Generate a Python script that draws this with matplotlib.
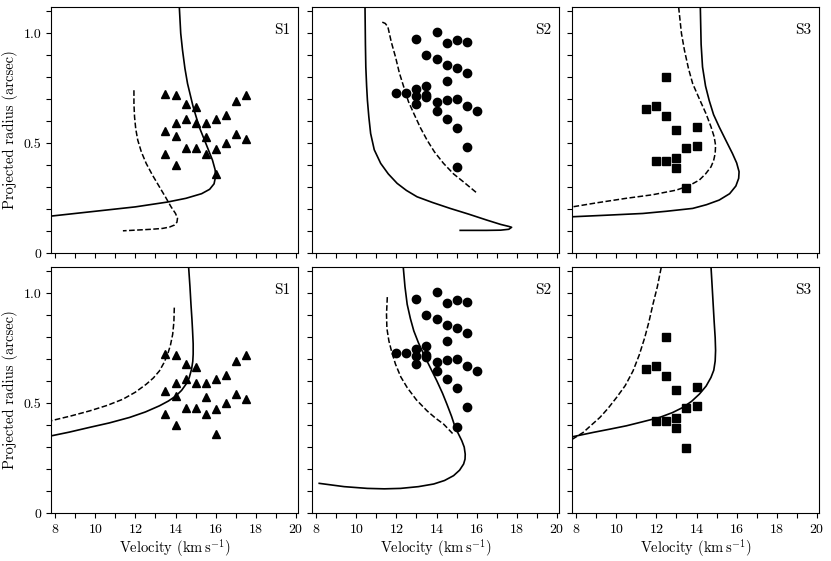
"""
Geschwindigkeit gegen projizierten Radius fuer S1, S2, S3 (zwei Modellreihen)
"""

import matplotlib.pyplot as plt
from matplotlib.ticker import MultipleLocator, FixedLocator, FixedFormatter

plt.rcParams['font.family'] = 'cmr10'
plt.rcParams['mathtext.fontset'] = 'cm'
plt.rcParams['axes.formatter.use_mathtext'] = True

# Messpunkte (km/s, arcsec)
s1_v = [13.5, 14, 14.5, 15, 17, 17.5, 14.5, 14, 15, 15.5, 16, 16.5, 13.5, 14, 15.5,
        17, 17.5, 16.5, 13.5, 14.5, 15, 16, 15.5, 14, 16]
s1_r = [0.726, 0.718, 0.68, 0.665, 0.69, 0.72, 0.612, 0.592, 0.592, 0.592, 0.612, 0.627,
        0.556, 0.533, 0.526, 0.541, 0.521, 0.503, 0.453, 0.476, 0.476, 0.473, 0.449, 0.40, 0.359]

s2_v = [13, 14, 14.5, 15, 15.5, 13.5, 14, 14.5, 15, 15.5, 14.5, 13.5, 13, 12, 12.5,
        13, 13.5, 13.5, 14, 14.5, 15, 13, 15.5, 16, 14, 14.5, 15, 15.5, 15]
s2_r = [0.973, 1.006, 0.956, 0.971, 0.961, 0.903, 0.882, 0.855, 0.844, 0.821, 0.782, 0.762,
        0.747, 0.73, 0.73, 0.715, 0.721, 0.708, 0.688, 0.695, 0.701, 0.677, 0.668, 0.647,
        0.647, 0.608, 0.57, 0.483, 0.39]

s3_v = [12.5, 11.5, 12, 12.5, 13, 14, 13.5, 14, 12, 12.5, 13, 13, 13.5]
s3_r = [0.80, 0.655, 0.668, 0.624, 0.562, 0.573, 0.479, 0.485, 0.421, 0.418, 0.433, 0.388, 0.294]

# Modellkurven obere Reihe
top_s1_solid_v = [14.19, 14.26, 14.35, 14.47, 14.6, 14.88, 15.18, 15.51, 15.84, 15.97, 16.0,
                  15.92, 15.7, 15.3, 14.52, 13.6, 12.0, 10.0, 7.8]
top_s1_solid_r = [1.12, 1.0, 0.923, 0.84, 0.771, 0.665, 0.574, 0.499, 0.423, 0.38, 0.35,
                  0.315, 0.29, 0.27, 0.249, 0.232, 0.21, 0.19, 0.168]
top_s1_dash_v = [11.93, 11.93, 11.96, 12.02, 12.12, 12.3, 12.54, 12.85, 13.2, 13.5, 13.78,
                 14.0, 14.1, 14.07, 13.94, 13.7, 13.36, 12.8, 12.2, 11.38]
top_s1_dash_r = [0.741, 0.68, 0.62, 0.565, 0.514, 0.46, 0.408, 0.355, 0.301, 0.255, 0.21,
                 0.18, 0.158, 0.14, 0.127, 0.118, 0.112, 0.108, 0.105, 0.101]

top_s2_solid_v = [10.44, 10.46, 10.48, 10.52, 10.56, 10.63, 10.72, 10.9, 11.22, 11.6, 12.04,
                  12.5, 13.03, 13.8, 14.68, 15.6, 16.5, 17.2, 17.6, 17.74, 17.6, 17.2, 16.5, 15.18]
top_s2_solid_r = [1.12, 0.95, 0.847, 0.76, 0.695, 0.62, 0.544, 0.47, 0.408, 0.36, 0.317,
                  0.285, 0.256, 0.23, 0.203, 0.177, 0.15, 0.13, 0.121, 0.117, 0.108, 0.104, 0.103, 0.103]
top_s2_dash_v = [11.3, 11.45, 11.58, 11.75, 11.96, 12.15, 12.37, 12.6, 12.87, 13.2, 13.53,
                 13.9, 14.35, 14.85, 15.34, 16.0]
top_s2_dash_r = [1.051, 1.045, 1.029, 0.96, 0.892, 0.82, 0.756, 0.69, 0.635, 0.57, 0.514,
                 0.46, 0.408, 0.36, 0.324, 0.274]

top_s3_solid_v = [14.19, 14.23, 14.3, 14.45, 14.63, 14.85, 15.13, 15.45, 15.79, 16.0, 16.12,
                  16.1, 15.96, 15.65, 15.13, 14.5, 13.81, 12.5, 11.33, 9.5, 7.82]
top_s3_solid_r = [1.12, 0.95, 0.847, 0.76, 0.695, 0.63, 0.574, 0.515, 0.453, 0.41, 0.37,
                  0.34, 0.305, 0.27, 0.241, 0.22, 0.203, 0.19, 0.18, 0.172, 0.165]
top_s3_dash_v = [13.11, 13.25, 13.4, 13.6, 13.81, 14.15, 14.47, 14.72, 14.88, 14.95, 14.93,
                 14.85, 14.72, 14.45, 14.14, 13.6, 12.98, 11.8, 10.5, 9.0, 7.82]
top_s3_dash_r = [1.12, 1.0, 0.923, 0.84, 0.771, 0.7, 0.635, 0.575, 0.529, 0.49, 0.453,
                 0.42, 0.392, 0.36, 0.332, 0.305, 0.286, 0.265, 0.249, 0.228, 0.21]

# Modellkurven untere Reihe
bot_s1_solid_v = [14.65, 14.72, 14.77, 14.82, 14.85, 14.88, 14.88, 14.86, 14.8, 14.68, 14.52,
                  14.3, 14.02, 13.65, 13.2, 12.5, 11.71, 10.7, 9.73, 8.7, 7.8]
bot_s1_solid_r = [1.124, 1.03, 0.95, 0.88, 0.829, 0.77, 0.723, 0.69, 0.655, 0.615, 0.586,
                  0.558, 0.533, 0.51, 0.488, 0.46, 0.435, 0.41, 0.39, 0.368, 0.351]
bot_s1_dash_v = [13.94, 13.92, 13.86, 13.75, 13.61, 13.42, 13.2, 12.9, 12.54, 12.0, 11.38,
                 10.6, 9.73, 8.8, 7.8]
bot_s1_dash_r = [0.935, 0.87, 0.814, 0.765, 0.723, 0.683, 0.647, 0.615, 0.586, 0.55, 0.518,
                 0.49, 0.465, 0.442, 0.42]

bot_s2_solid_v = [12.34, 12.43, 12.54, 12.7, 12.87, 13.1, 13.36, 13.7, 14.02, 14.3, 14.52,
                  14.75, 14.93, 15.12, 15.26, 15.38, 15.43, 15.42, 15.35, 15.15, 14.85, 14.4,
                  13.86, 13.1, 12.21, 11.4, 10.56, 9.4, 8.16]
bot_s2_solid_r = [1.124, 1.03, 0.95, 0.885, 0.829, 0.775, 0.723, 0.66, 0.601, 0.545, 0.495,
                  0.44, 0.39, 0.355, 0.329, 0.3, 0.268, 0.245, 0.223, 0.195, 0.17, 0.148,
                  0.132, 0.12, 0.112, 0.11, 0.112, 0.12, 0.135]
bot_s2_dash_v = [11.55, 11.51, 11.53, 11.63, 11.78, 11.96, 12.22, 12.54, 13.0, 13.53, 13.95,
                 14.35, 14.8]
bot_s2_dash_r = [0.983, 0.905, 0.84, 0.783, 0.73, 0.677, 0.62, 0.571, 0.515, 0.465, 0.432,
                 0.405, 0.362]

bot_s3_solid_v = [14.72, 14.78, 14.83, 14.88, 14.93, 14.95, 14.93, 14.86, 14.72, 14.48, 14.14,
                  13.75, 13.31, 12.8, 12.16, 11.3, 10.51, 9.7, 8.86, 7.82]
bot_s3_solid_r = [1.124, 1.03, 0.95, 0.87, 0.798, 0.74, 0.692, 0.65, 0.617, 0.578, 0.541,
                  0.508, 0.48, 0.457, 0.435, 0.415, 0.397, 0.382, 0.367, 0.347]
bot_s3_dash_v = [12.24, 12.05, 11.83, 11.63, 11.42, 11.15, 10.84, 10.45, 10.02, 9.6, 9.19,
                 8.76, 8.36, 7.82]
bot_s3_dash_r = [1.117, 1.03, 0.95, 0.87, 0.798, 0.72, 0.647, 0.58, 0.526, 0.477, 0.435,
                 0.4, 0.367, 0.336]

labels = ['S1', 'S2', 'S3']
points = [(s1_v, s1_r, '^', 6), (s2_v, s2_r, 'o', 6), (s3_v, s3_r, 's', 5.5)]
curves = [
    [(top_s1_solid_v, top_s1_solid_r, top_s1_dash_v, top_s1_dash_r),
     (top_s2_solid_v, top_s2_solid_r, top_s2_dash_v, top_s2_dash_r),
     (top_s3_solid_v, top_s3_solid_r, top_s3_dash_v, top_s3_dash_r)],
    [(bot_s1_solid_v, bot_s1_solid_r, bot_s1_dash_v, bot_s1_dash_r),
     (bot_s2_solid_v, bot_s2_solid_r, bot_s2_dash_v, bot_s2_dash_r),
     (bot_s3_solid_v, bot_s3_solid_r, bot_s3_dash_v, bot_s3_dash_r)],
]

fig = plt.figure(figsize=(8.31, 5.61), dpi=100)
W, H = 831, 561
lefts = [51, 312, 572]
tops = [7, 267]
aw, ah = 247, 246

for row in range(2):
    for col in range(3):
        ax = fig.add_axes([lefts[col] / W, 1 - (tops[row] + ah) / H, aw / W, ah / H])
        sv, sr, dv, dr = curves[row][col]
        ax.plot(sv, sr, 'k-', lw=1.2)
        ax.plot(dv, dr, 'k--', lw=1.1)
        pv, pr, m, ms = points[col]
        ax.plot(pv, pr, ls='none', marker=m, color='k', ms=ms)

        ax.set_xlim(7.8, 20.1)
        ax.set_ylim(0, 1.12)
        ax.xaxis.set_major_locator(MultipleLocator(2))
        ax.xaxis.set_minor_locator(MultipleLocator(1))
        ax.yaxis.set_major_locator(FixedLocator([0, 0.5, 1.0]))
        ax.yaxis.set_major_formatter(FixedFormatter(['0', '0.5', '1.0']))
        ax.yaxis.set_minor_locator(MultipleLocator(0.1))
        ax.tick_params(which='both', direction='out', length=3.5, width=0.8, labelsize=10)

        if row == 0:
            ax.tick_params(labelbottom=False)
        else:
            ax.set_xlabel(r'Velocity (km$\,$s$^{-1}$)', fontsize=10.5, labelpad=1)
        if col > 0:
            ax.tick_params(labelleft=False)
        else:
            ax.set_ylabel('Projected radius (arcsec)', fontsize=10.5)

        ax.text(0.97, 0.905, labels[col], transform=ax.transAxes,
                ha='right', va='center', fontsize=11)

plt.savefig('out.png', dpi=100)
